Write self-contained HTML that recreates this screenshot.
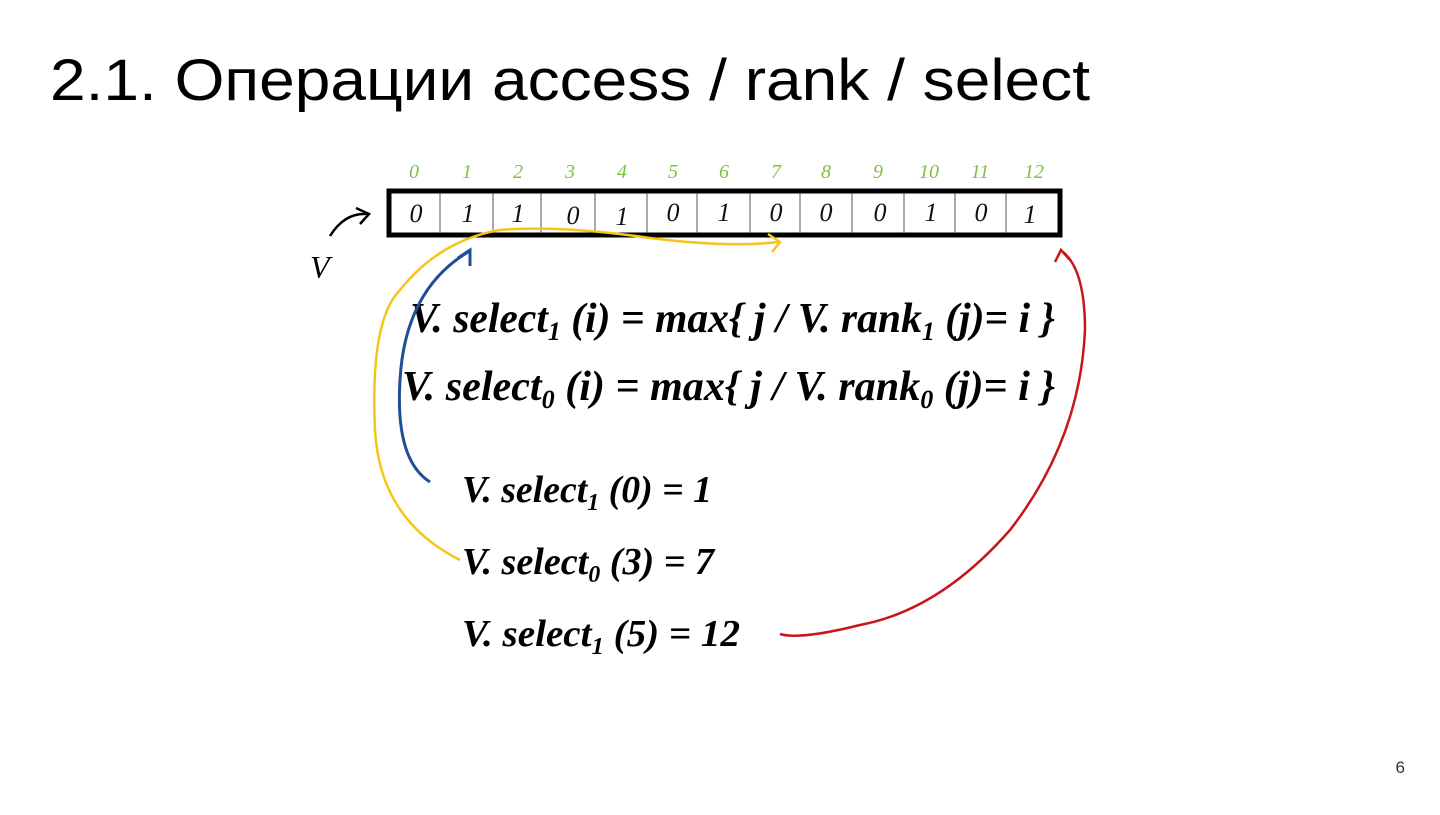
<!DOCTYPE html>
<html><head><meta charset="utf-8"><style>
body{margin:0;background:#fff;width:1440px;height:810px;overflow:hidden}
</style></head><body>
<svg width="1440" height="810" xmlns="http://www.w3.org/2000/svg">
<text x="50" y="100" font-family="Liberation Sans, sans-serif" font-size="58" fill="#000" textLength="1040" lengthAdjust="spacingAndGlyphs">2.1. Операции access / rank / select</text>
<text x="1405" y="773" font-family="Liberation Sans, sans-serif" font-size="17" fill="#333" text-anchor="end">6</text>
<g font-family="Liberation Serif, serif" font-style="italic" font-size="20" fill="#7cc242" text-anchor="middle">
<text x="414" y="178">0</text><text x="467" y="178">1</text><text x="518" y="178">2</text><text x="570" y="178">3</text><text x="622" y="178">4</text><text x="673" y="178">5</text><text x="724" y="178">6</text><text x="776" y="178">7</text><text x="826" y="178">8</text><text x="878" y="178">9</text><text x="929" y="178">10</text><text x="980" y="178">11</text><text x="1034" y="178">12</text>
</g>
<rect x="389" y="191" width="671" height="44" fill="none" stroke="#000" stroke-width="5"/>
<g stroke="#555" stroke-width="1">
<line x1="440" y1="193" x2="440" y2="233"/><line x1="493" y1="193" x2="493" y2="233"/><line x1="541" y1="193" x2="541" y2="233"/><line x1="595" y1="193" x2="595" y2="233"/><line x1="647" y1="193" x2="647" y2="233"/><line x1="697" y1="193" x2="697" y2="233"/><line x1="750" y1="193" x2="750" y2="233"/><line x1="800" y1="193" x2="800" y2="233"/><line x1="852" y1="193" x2="852" y2="233"/><line x1="904" y1="193" x2="904" y2="233"/><line x1="955" y1="193" x2="955" y2="233"/><line x1="1006" y1="193" x2="1006" y2="233"/>
</g>
<g font-family="Liberation Serif, serif" font-style="italic" font-size="26" fill="#111" text-anchor="middle">
<text x="416" y="222">0</text><text x="468" y="222">1</text><text x="518" y="222">1</text><text x="573" y="224">0</text><text x="622" y="225">1</text><text x="673" y="221">0</text><text x="724" y="221">1</text><text x="776" y="221">0</text><text x="826" y="221">0</text><text x="880" y="221">0</text><text x="931" y="221">1</text><text x="981" y="221">0</text><text x="1030" y="223">1</text>
</g>
<path d="M330 236 Q345 212 368 214" fill="none" stroke="#000" stroke-width="2.5"/>
<path d="M356 208 L369 214 L360 224" fill="none" stroke="#000" stroke-width="2.5"/>
<text x="310" y="278" font-family="Liberation Serif, serif" font-style="italic" font-size="32" fill="#000">V</text>
<g font-family="Liberation Serif, serif" font-style="italic" font-weight="bold" fill="#000" lengthAdjust="spacingAndGlyphs">
<text x="410" y="332" font-size="42" textLength="645" lengthAdjust="spacingAndGlyphs">V. select<tspan font-size="26" dy="8">1</tspan><tspan dy="-8"> (i) = max{ j / V. rank</tspan><tspan font-size="26" dy="8">1</tspan><tspan dy="-8"> (j)= i }</tspan></text>
<text x="402" y="400" font-size="42" textLength="653" lengthAdjust="spacingAndGlyphs">V. select<tspan font-size="26" dy="8">0</tspan><tspan dy="-8"> (i) = max{ j / V. rank</tspan><tspan font-size="26" dy="8">0</tspan><tspan dy="-8"> (j)= i }</tspan></text>
<text x="462" y="502" font-size="38" textLength="250" lengthAdjust="spacingAndGlyphs">V. select<tspan font-size="24" dy="8">1</tspan><tspan dy="-8"> (0) = 1</tspan></text>
<text x="462" y="574" font-size="38" textLength="252" lengthAdjust="spacingAndGlyphs">V. select<tspan font-size="24" dy="8">0</tspan><tspan dy="-8"> (3) = 7</tspan></text>
<text x="462" y="646" font-size="38" textLength="278" lengthAdjust="spacingAndGlyphs">V. select<tspan font-size="24" dy="8">1</tspan><tspan dy="-8"> (5) = 12</tspan></text>
</g>
<path d="M430 482 Q395 460 400 380 Q405 290 468 252" fill="none" stroke="#1e4f96" stroke-width="3"/>
<path d="M458 258 L470 250 L470 266" fill="none" stroke="#1e4f96" stroke-width="3"/>
<path d="M460 560 Q380 520 375 430 Q370 320 400 290 Q440 240 500 230 Q560 225 650 238 Q730 248 778 242" fill="none" stroke="#f5c518" stroke-width="2.5"/>
<path d="M768 234 L780 242 L772 252" fill="none" stroke="#f5c518" stroke-width="2.5"/>
<path d="M780 634 Q800 640 860 625 Q940 610 1010 530 Q1080 440 1085 330 Q1085 270 1063 252" fill="none" stroke="#c8151b" stroke-width="2.5"/>
<path d="M1055 262 L1061 250 L1070 260" fill="none" stroke="#c8151b" stroke-width="2.5"/>
</svg>
</body></html>
